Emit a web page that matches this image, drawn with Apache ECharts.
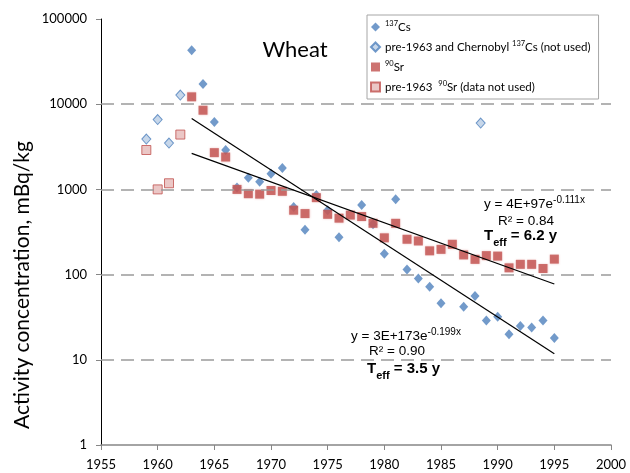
<!DOCTYPE html>
<html><head><meta charset="utf-8">
<script src="https://cdn.jsdelivr.net/npm/echarts@6/dist/echarts.min.js"></script>
<style>html,body{margin:0;padding:0;background:#fff}#c{width:630px;height:473px}</style>
</head><body><div id="c"></div>
<script>
// ---- data ----
const xMin = 1955, xMax = 2000, xStep = 5;
const yTickValues = [1, 10, 100, 1000, 10000, 100000];
const gridValues = [10, 100, 1000, 10000];

const csYears  = [1963,1964,1965,1966,1967,1968,1969,1970,1971,1972,1973,1974,1975,1976,1978,1979,1980,1981,1982,1983,1984,1985,1987,1988,1989,1990,1991,1992,1993,1994,1995];
const csValues = [43000,17300,6200,2900,1050,1370,1230,1530,1780,620,335,860,570,275,655,390,176,765,115,90,72,46,42,56,29,32,20,25,24,29,18];

const preCsYears  = [1959,1960,1961,1962,1988.5];
const preCsValues = [3900,6600,3500,12800,6000];

const srYears  = [1963,1964,1965,1966,1967,1968,1969,1970,1971,1972,1973,1974,1975,1976,1977,1978,1979,1980,1981,1982,1983,1984,1985,1986,1987,1988,1989,1990,1991,1992,1993,1994,1995];
const srValues = [12200,8500,2700,2400,1000,890,880,970,950,570,520,800,510,460,500,480,400,270,400,260,248,190,198,227,170,151,167,165,120,132,132,118,152];

const preSrYears  = [1959,1960,1961,1962];
const preSrValues = [2900,1000,1180,4400];

// exponential trend lines (straight on log axis): endpoints
const csTrendYears  = [1963, 1995];
const csTrendValues = [6800, 11.8];
const srTrendYears  = [1963, 1995];
const srTrendValues = [2650, 77.6];

const legendNames = ['cs', 'precs', 'sr', 'presr'];
const legendLabels = {
  cs: '{sup|137}Cs',
  precs: 'pre-1963 and Chernobyl {sup|137}Cs (not used)',
  sr: '{sup|90}Sr',
  presr: 'pre-1963  {sup|90}Sr (data not used)'
};

const zip = (xs, ys) => xs.map((x, i) => [x, ys[i]]);

const chart = echarts.init(document.getElementById('c'), null, {renderer: 'canvas'});
const baseFont = 'Lato, "Open Sans", sans-serif';
const eqFont = '"Liberation Sans", Arial, sans-serif';

chart.setOption({
  animation: false,
  backgroundColor: '#fff',
  grid: {left: 101, right: 19, top: 19, bottom: 28, containLabel: false},
  xAxis: {
    type: 'value', min: xMin, max: xMax, interval: xStep,
    axisLine: {show: true, lineStyle: {color: '#868686', width: 1.5}},
    axisTick: {show: true, length: 5, lineStyle: {color: '#868686', width: 1}},
    axisLabel: {color: '#000', fontFamily: baseFont, fontSize: 13, margin: 13,
      formatter: v => String(Math.round(v))},
    splitLine: {show: false}
  },
  yAxis: {
    type: 'log', logBase: 10, min: 1, max: 100000,
    axisLine: {show: true, onZero: false, lineStyle: {color: '#000', width: 1}},
    axisTick: {show: true, length: 5, lineStyle: {color: '#868686', width: 1}},
    axisLabel: {color: '#000', fontFamily: baseFont, fontSize: 13, margin: 14,
      formatter: v => String(Math.round(v))},
    splitLine: {show: false}
  },
  legend: {
    data: legendNames,
    orient: 'vertical',
    left: 367, top: 15,
    padding: [5, 8, 5, 3],
    itemWidth: 9, itemHeight: 9, itemGap: 6,
    borderColor: '#a6a6a6', borderWidth: 1, borderRadius: 0,
    backgroundColor: '#fff',
    formatter: n => legendLabels[n],
    textStyle: {color: '#000', fontFamily: baseFont, fontSize: 11.5, lineHeight: 14,
      rich: {sup: {fontFamily: baseFont, fontSize: 7.5, verticalAlign: 'top', lineHeight: 9, color: '#000'}}}
  },
  graphic: [
    {type: 'text', x: 295, y: 50, style: {text: 'Wheat', font: '22px ' + baseFont, fill: '#000', textAlign: 'center', textVerticalAlign: 'middle'}},
    {type: 'text', x: 22, y: 285, rotation: Math.PI / 2,
      style: {text: 'Activity concentration, mBq/kg', font: '21px ' + baseFont, fill: '#000', textAlign: 'center', textVerticalAlign: 'middle'}},
    // Sr equation block
    {type: 'text', x: 484, y: 203, style: {text: '{a|y = 4E+97e}{s|-0.111x}', textVerticalAlign: 'middle', textAlign: 'left',
      rich: {a: {font: '13.5px ' + eqFont, fill: '#000', lineHeight: 16, verticalAlign: 'bottom'}, s: {font: '10px ' + eqFont, fill: '#000', lineHeight: 16, verticalAlign: 'top'}}}},
    {type: 'text', x: 498, y: 221, style: {text: 'R² = 0.84', font: '13.5px ' + eqFont, fill: '#000', textVerticalAlign: 'middle', textAlign: 'left'}},
    {type: 'text', x: 484, y: 238, style: {text: '{t|T}{e|eff}{t| = 6.2 y}', textVerticalAlign: 'middle', textAlign: 'left',
      rich: {t: {font: 'bold 15px ' + eqFont, fill: '#000', lineHeight: 20, verticalAlign: 'top'}, e: {font: 'bold 11px ' + eqFont, fill: '#000', lineHeight: 20, verticalAlign: 'bottom'}}}},
    // Cs equation block
    {type: 'text', x: 351, y: 335, style: {text: '{a|y = 3E+173e}{s|-0.199x}', textVerticalAlign: 'middle', textAlign: 'left',
      rich: {a: {font: '13.5px ' + eqFont, fill: '#000', lineHeight: 16, verticalAlign: 'bottom'}, s: {font: '10px ' + eqFont, fill: '#000', lineHeight: 16, verticalAlign: 'top'}}}},
    {type: 'text', x: 369, y: 351, style: {text: 'R² = 0.90', font: '13.5px ' + eqFont, fill: '#000', textVerticalAlign: 'middle', textAlign: 'left'}},
    {type: 'text', x: 367, y: 371, style: {text: '{t|T}{e|eff}{t| = 3.5 y}', textVerticalAlign: 'middle', textAlign: 'left',
      rich: {t: {font: 'bold 15px ' + eqFont, fill: '#000', lineHeight: 20, verticalAlign: 'top'}, e: {font: 'bold 11px ' + eqFont, fill: '#000', lineHeight: 20, verticalAlign: 'bottom'}}}}
  ],
  series: [
    {name: 'cs', type: 'scatter', symbol: 'diamond', symbolSize: [9, 10],
      itemStyle: {color: '#4F81BD'}, data: zip(csYears, csValues), z: 3,
      markLine: {silent: true, symbol: 'none', animation: false, label: {show: false},
        lineStyle: {type: [13, 7], color: '#9a9a9a', width: 1.5},
        data: gridValues.map(v => ({yAxis: v}))}},
    {name: 'precs', type: 'scatter', symbol: 'diamond', symbolSize: [9, 10],
      itemStyle: {color: '#B9CDE5', borderColor: '#4F81BD', borderWidth: 1}, data: zip(preCsYears, preCsValues), z: 3},
    {name: 'sr', type: 'scatter', symbol: 'rect', symbolSize: 9,
      itemStyle: {color: '#C0504D', shadowColor: 'rgba(230,150,150,0.6)', shadowBlur: 2}, data: zip(srYears, srValues), z: 4},
    {name: 'presr', type: 'scatter', symbol: 'rect', symbolSize: 9,
      itemStyle: {color: '#E6B9B8', borderColor: '#C0504D', borderWidth: 1}, data: zip(preSrYears, preSrValues), z: 4},
    {name: 'csTrend', type: 'line', symbol: 'none', data: zip(csTrendYears, csTrendValues),
      lineStyle: {color: '#000', width: 1.2}, z: 5},
    {name: 'srTrend', type: 'line', symbol: 'none', data: zip(srTrendYears, srTrendValues),
      lineStyle: {color: '#000', width: 1.2}, z: 5}
  ]
});
</script>
</body></html>
